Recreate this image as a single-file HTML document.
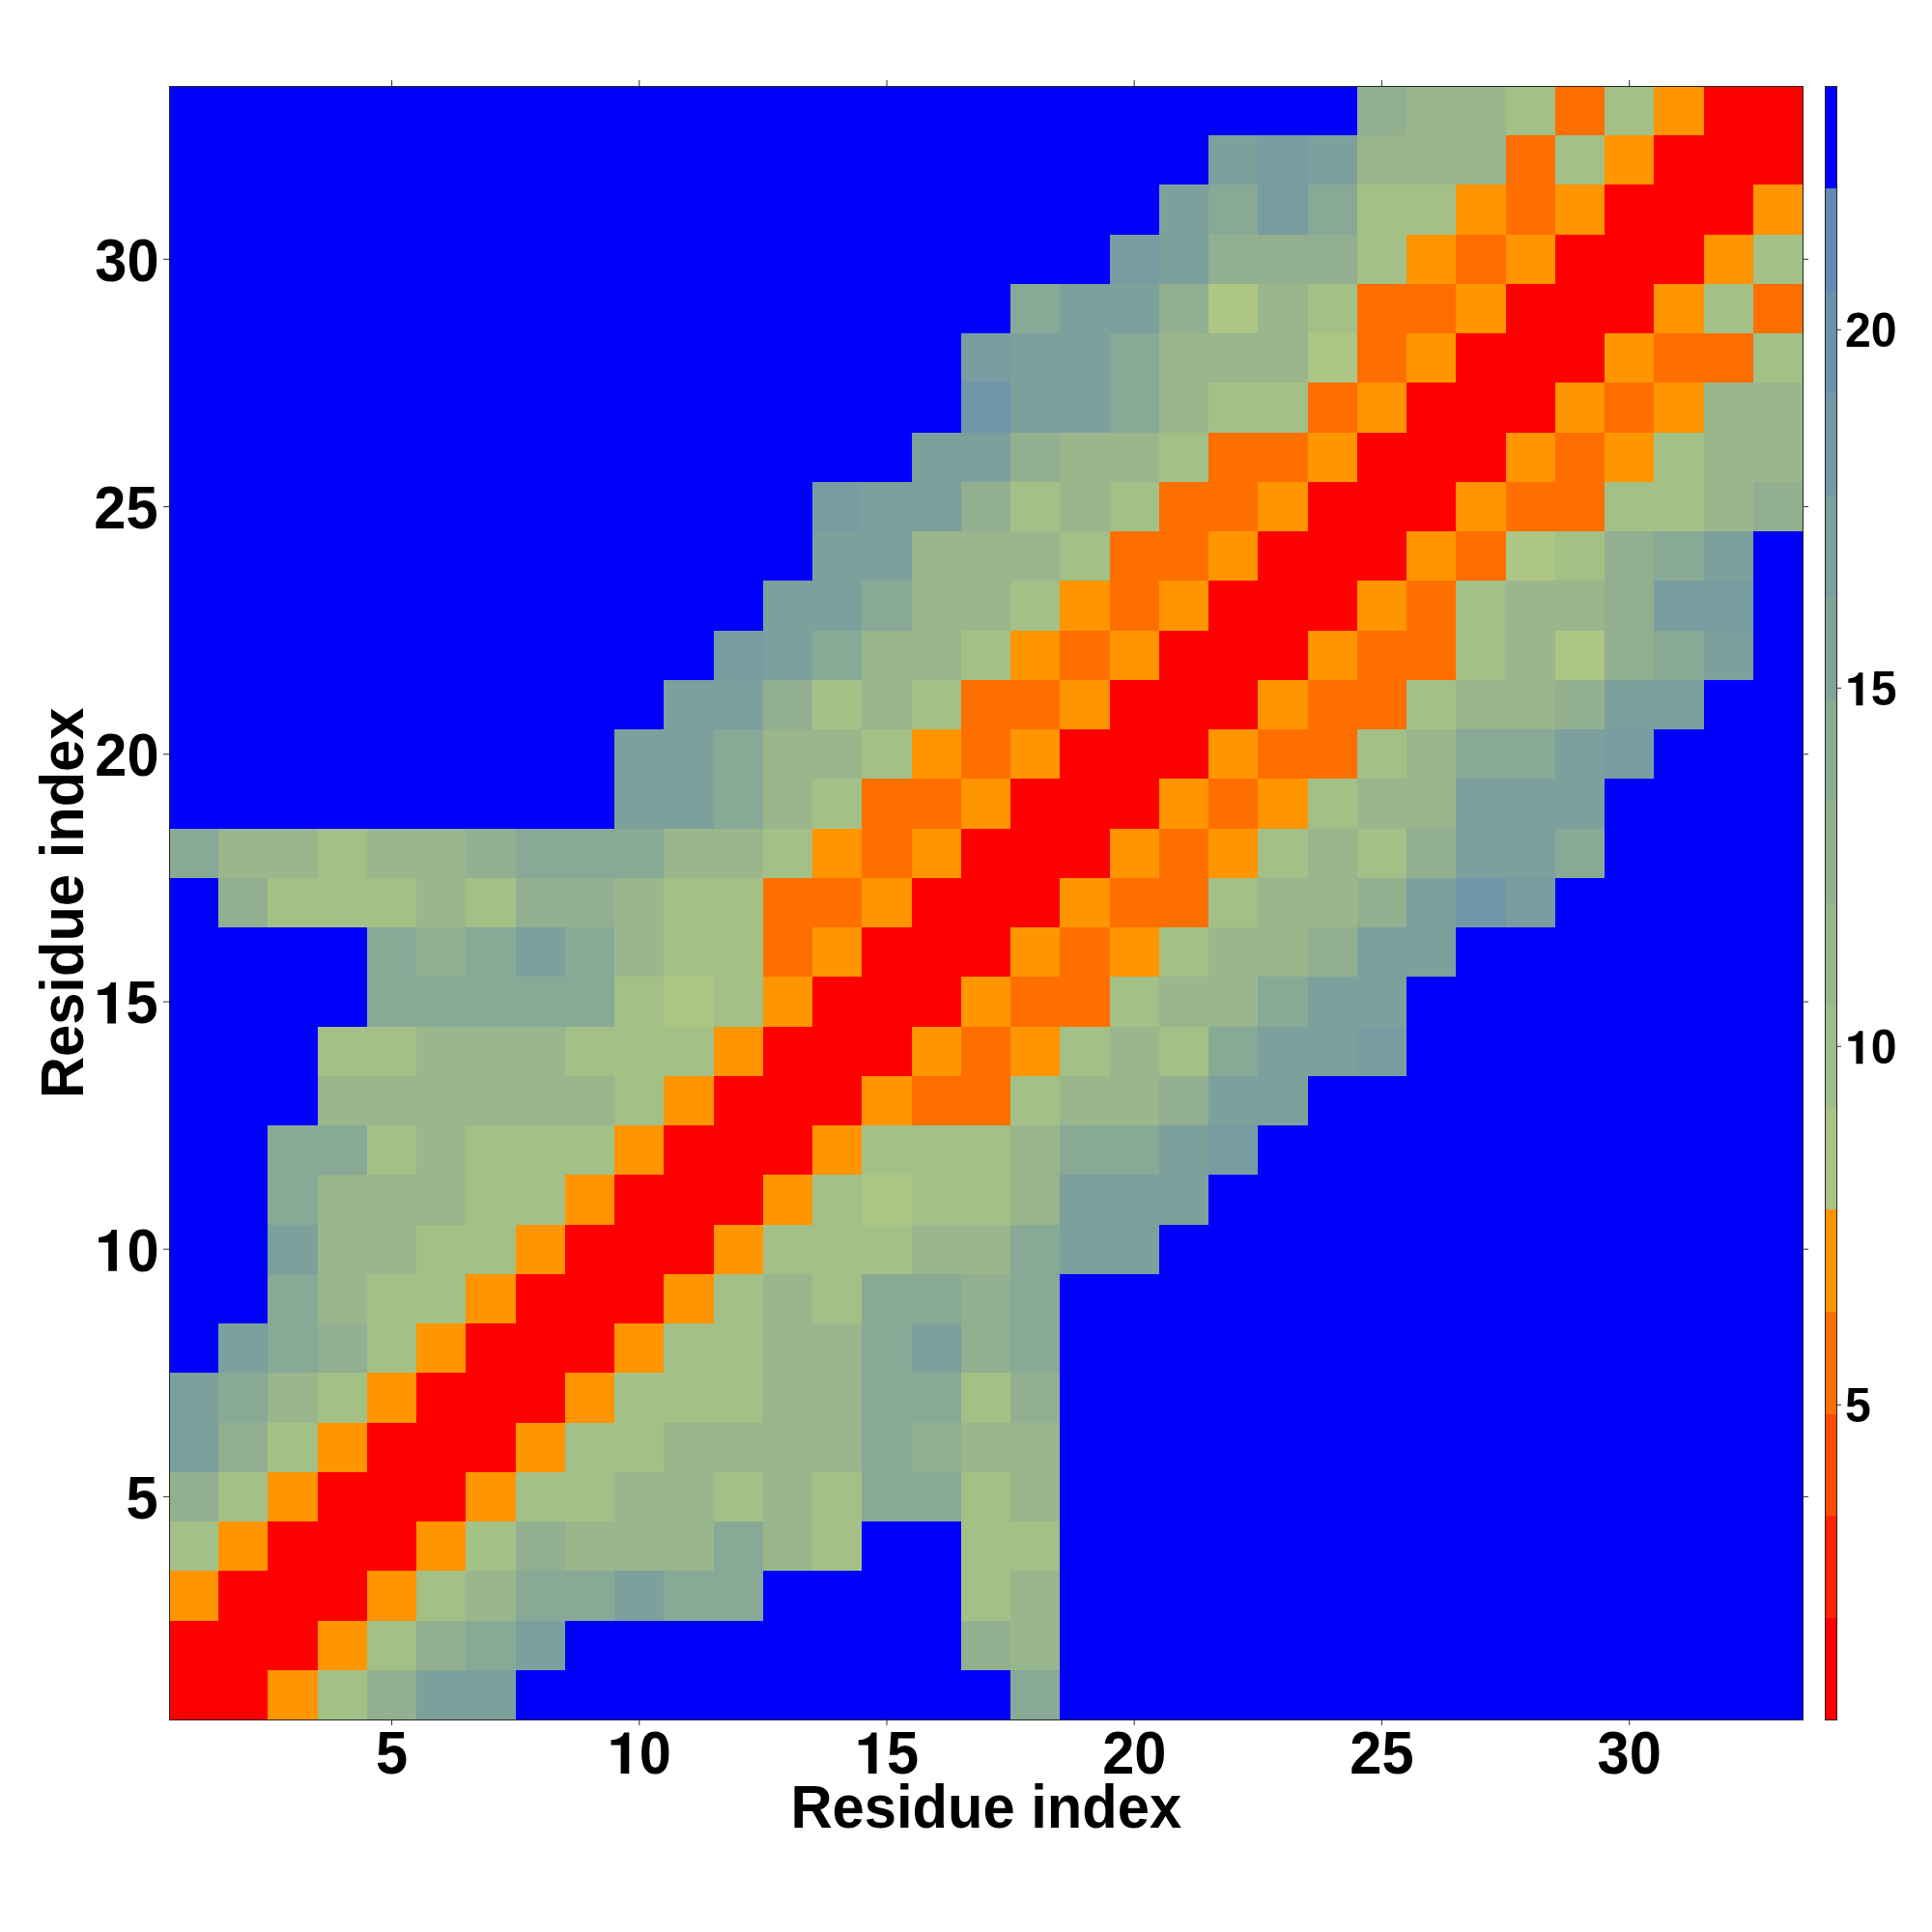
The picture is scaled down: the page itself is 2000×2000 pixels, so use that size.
<!DOCTYPE html><html><head><meta charset="utf-8"><style>html,body{margin:0;padding:0;background:#fff;width:2000px;height:2000px;overflow:hidden}svg{display:block}text{font-family:"Liberation Sans",sans-serif;font-weight:bold}</style></head><body>
<svg width="2000" height="2000" viewBox="0 0 2000 2000">
<rect x="0" y="0" width="2000" height="2000" fill="#fff"/>
<g shape-rendering="crispEdges">
<rect x="175.00" y="89.00" width="1230.42" height="51.84" fill="#0000ff"/>
<rect x="1404.82" y="89.00" width="51.84" height="51.84" fill="#92b090"/>
<rect x="1456.06" y="89.00" width="103.08" height="51.84" fill="#99b68c"/>
<rect x="1558.55" y="89.00" width="51.84" height="51.84" fill="#a3c087"/>
<rect x="1609.79" y="89.00" width="51.84" height="51.84" fill="#ff6f00"/>
<rect x="1661.03" y="89.00" width="51.84" height="51.84" fill="#a3c087"/>
<rect x="1712.27" y="89.00" width="51.84" height="51.84" fill="#ff9500"/>
<rect x="1763.52" y="89.00" width="103.08" height="51.84" fill="#ff0000"/>
<rect x="175.00" y="140.24" width="1076.69" height="51.84" fill="#0000ff"/>
<rect x="1251.09" y="140.24" width="51.84" height="51.84" fill="#7ca09c"/>
<rect x="1302.33" y="140.24" width="51.84" height="51.84" fill="#789da1"/>
<rect x="1353.58" y="140.24" width="51.84" height="51.84" fill="#7ca09c"/>
<rect x="1404.82" y="140.24" width="154.33" height="51.84" fill="#99b68c"/>
<rect x="1558.55" y="140.24" width="51.84" height="51.84" fill="#ff6f00"/>
<rect x="1609.79" y="140.24" width="51.84" height="51.84" fill="#a3c087"/>
<rect x="1661.03" y="140.24" width="51.84" height="51.84" fill="#ff9500"/>
<rect x="1712.27" y="140.24" width="154.33" height="51.84" fill="#ff0000"/>
<rect x="175.00" y="191.48" width="1025.45" height="51.84" fill="#0000ff"/>
<rect x="1199.85" y="191.48" width="51.84" height="51.84" fill="#7ca09c"/>
<rect x="1251.09" y="191.48" width="51.84" height="51.84" fill="#88a996"/>
<rect x="1302.33" y="191.48" width="51.84" height="51.84" fill="#789da1"/>
<rect x="1353.58" y="191.48" width="51.84" height="51.84" fill="#88a996"/>
<rect x="1404.82" y="191.48" width="103.08" height="51.84" fill="#a3c087"/>
<rect x="1507.30" y="191.48" width="51.84" height="51.84" fill="#ff9500"/>
<rect x="1558.55" y="191.48" width="51.84" height="51.84" fill="#ff6f00"/>
<rect x="1609.79" y="191.48" width="51.84" height="51.84" fill="#ff9500"/>
<rect x="1661.03" y="191.48" width="154.33" height="51.84" fill="#ff0000"/>
<rect x="1814.76" y="191.48" width="51.84" height="51.84" fill="#ff9500"/>
<rect x="175.00" y="242.73" width="974.21" height="51.84" fill="#0000ff"/>
<rect x="1148.61" y="242.73" width="51.84" height="51.84" fill="#789da1"/>
<rect x="1199.85" y="242.73" width="51.84" height="51.84" fill="#7ca09c"/>
<rect x="1251.09" y="242.73" width="154.33" height="51.84" fill="#92b090"/>
<rect x="1404.82" y="242.73" width="51.84" height="51.84" fill="#a3c087"/>
<rect x="1456.06" y="242.73" width="51.84" height="51.84" fill="#ff9500"/>
<rect x="1507.30" y="242.73" width="51.84" height="51.84" fill="#ff6f00"/>
<rect x="1558.55" y="242.73" width="51.84" height="51.84" fill="#ff9500"/>
<rect x="1609.79" y="242.73" width="154.33" height="51.84" fill="#ff0000"/>
<rect x="1763.52" y="242.73" width="51.84" height="51.84" fill="#ff9500"/>
<rect x="1814.76" y="242.73" width="51.84" height="51.84" fill="#a3c087"/>
<rect x="175.00" y="293.97" width="871.72" height="51.84" fill="#0000ff"/>
<rect x="1046.12" y="293.97" width="51.84" height="51.84" fill="#88a996"/>
<rect x="1097.36" y="293.97" width="103.08" height="51.84" fill="#7ca09c"/>
<rect x="1199.85" y="293.97" width="51.84" height="51.84" fill="#92b090"/>
<rect x="1251.09" y="293.97" width="51.84" height="51.84" fill="#adc683"/>
<rect x="1302.33" y="293.97" width="51.84" height="51.84" fill="#99b68c"/>
<rect x="1353.58" y="293.97" width="51.84" height="51.84" fill="#a3c087"/>
<rect x="1404.82" y="293.97" width="103.08" height="51.84" fill="#ff6f00"/>
<rect x="1507.30" y="293.97" width="51.84" height="51.84" fill="#ff9500"/>
<rect x="1558.55" y="293.97" width="154.33" height="51.84" fill="#ff0000"/>
<rect x="1712.27" y="293.97" width="51.84" height="51.84" fill="#ff9500"/>
<rect x="1763.52" y="293.97" width="51.84" height="51.84" fill="#a3c087"/>
<rect x="1814.76" y="293.97" width="51.84" height="51.84" fill="#ff6f00"/>
<rect x="175.00" y="345.21" width="820.48" height="51.84" fill="#0000ff"/>
<rect x="994.88" y="345.21" width="51.84" height="51.84" fill="#789da1"/>
<rect x="1046.12" y="345.21" width="103.08" height="51.84" fill="#7ca09c"/>
<rect x="1148.61" y="345.21" width="51.84" height="51.84" fill="#88a996"/>
<rect x="1199.85" y="345.21" width="154.33" height="51.84" fill="#99b68c"/>
<rect x="1353.58" y="345.21" width="51.84" height="51.84" fill="#adc683"/>
<rect x="1404.82" y="345.21" width="51.84" height="51.84" fill="#ff6f00"/>
<rect x="1456.06" y="345.21" width="51.84" height="51.84" fill="#ff9500"/>
<rect x="1507.30" y="345.21" width="154.33" height="51.84" fill="#ff0000"/>
<rect x="1661.03" y="345.21" width="51.84" height="51.84" fill="#ff9500"/>
<rect x="1712.27" y="345.21" width="103.08" height="51.84" fill="#ff6f00"/>
<rect x="1814.76" y="345.21" width="51.84" height="51.84" fill="#a3c087"/>
<rect x="175.00" y="396.45" width="820.48" height="51.84" fill="#0000ff"/>
<rect x="994.88" y="396.45" width="51.84" height="51.84" fill="#6f96a8"/>
<rect x="1046.12" y="396.45" width="103.08" height="51.84" fill="#7ca09c"/>
<rect x="1148.61" y="396.45" width="51.84" height="51.84" fill="#88a996"/>
<rect x="1199.85" y="396.45" width="51.84" height="51.84" fill="#99b68c"/>
<rect x="1251.09" y="396.45" width="103.08" height="51.84" fill="#a3c087"/>
<rect x="1353.58" y="396.45" width="51.84" height="51.84" fill="#ff6f00"/>
<rect x="1404.82" y="396.45" width="51.84" height="51.84" fill="#ff9500"/>
<rect x="1456.06" y="396.45" width="154.33" height="51.84" fill="#ff0000"/>
<rect x="1609.79" y="396.45" width="51.84" height="51.84" fill="#ff9500"/>
<rect x="1661.03" y="396.45" width="51.84" height="51.84" fill="#ff6f00"/>
<rect x="1712.27" y="396.45" width="51.84" height="51.84" fill="#ff9500"/>
<rect x="1763.52" y="396.45" width="103.08" height="51.84" fill="#99b68c"/>
<rect x="175.00" y="447.70" width="769.24" height="51.84" fill="#0000ff"/>
<rect x="943.64" y="447.70" width="103.08" height="51.84" fill="#7ca09c"/>
<rect x="1046.12" y="447.70" width="51.84" height="51.84" fill="#92b090"/>
<rect x="1097.36" y="447.70" width="103.08" height="51.84" fill="#99b68c"/>
<rect x="1199.85" y="447.70" width="51.84" height="51.84" fill="#a3c087"/>
<rect x="1251.09" y="447.70" width="103.08" height="51.84" fill="#ff6f00"/>
<rect x="1353.58" y="447.70" width="51.84" height="51.84" fill="#ff9500"/>
<rect x="1404.82" y="447.70" width="154.33" height="51.84" fill="#ff0000"/>
<rect x="1558.55" y="447.70" width="51.84" height="51.84" fill="#ff9500"/>
<rect x="1609.79" y="447.70" width="51.84" height="51.84" fill="#ff6f00"/>
<rect x="1661.03" y="447.70" width="51.84" height="51.84" fill="#ff9500"/>
<rect x="1712.27" y="447.70" width="51.84" height="51.84" fill="#a3c087"/>
<rect x="1763.52" y="447.70" width="103.08" height="51.84" fill="#99b68c"/>
<rect x="175.00" y="498.94" width="666.75" height="51.84" fill="#0000ff"/>
<rect x="841.15" y="498.94" width="51.84" height="51.84" fill="#789da1"/>
<rect x="892.39" y="498.94" width="103.08" height="51.84" fill="#7ca09c"/>
<rect x="994.88" y="498.94" width="51.84" height="51.84" fill="#92b090"/>
<rect x="1046.12" y="498.94" width="51.84" height="51.84" fill="#a3c087"/>
<rect x="1097.36" y="498.94" width="51.84" height="51.84" fill="#99b68c"/>
<rect x="1148.61" y="498.94" width="51.84" height="51.84" fill="#a3c087"/>
<rect x="1199.85" y="498.94" width="103.08" height="51.84" fill="#ff6f00"/>
<rect x="1302.33" y="498.94" width="51.84" height="51.84" fill="#ff9500"/>
<rect x="1353.58" y="498.94" width="154.33" height="51.84" fill="#ff0000"/>
<rect x="1507.30" y="498.94" width="51.84" height="51.84" fill="#ff9500"/>
<rect x="1558.55" y="498.94" width="103.08" height="51.84" fill="#ff6f00"/>
<rect x="1661.03" y="498.94" width="103.08" height="51.84" fill="#a3c087"/>
<rect x="1763.52" y="498.94" width="51.84" height="51.84" fill="#99b68c"/>
<rect x="1814.76" y="498.94" width="51.84" height="51.84" fill="#92b090"/>
<rect x="175.00" y="550.18" width="666.75" height="51.84" fill="#0000ff"/>
<rect x="841.15" y="550.18" width="103.08" height="51.84" fill="#7ca09c"/>
<rect x="943.64" y="550.18" width="154.33" height="51.84" fill="#99b68c"/>
<rect x="1097.36" y="550.18" width="51.84" height="51.84" fill="#a3c087"/>
<rect x="1148.61" y="550.18" width="103.08" height="51.84" fill="#ff6f00"/>
<rect x="1251.09" y="550.18" width="51.84" height="51.84" fill="#ff9500"/>
<rect x="1302.33" y="550.18" width="154.33" height="51.84" fill="#ff0000"/>
<rect x="1456.06" y="550.18" width="51.84" height="51.84" fill="#ff9500"/>
<rect x="1507.30" y="550.18" width="51.84" height="51.84" fill="#ff6f00"/>
<rect x="1558.55" y="550.18" width="51.84" height="51.84" fill="#adc683"/>
<rect x="1609.79" y="550.18" width="51.84" height="51.84" fill="#a3c087"/>
<rect x="1661.03" y="550.18" width="51.84" height="51.84" fill="#92b090"/>
<rect x="1712.27" y="550.18" width="51.84" height="51.84" fill="#88a996"/>
<rect x="1763.52" y="550.18" width="51.84" height="51.84" fill="#7ca09c"/>
<rect x="1814.76" y="550.18" width="51.84" height="51.84" fill="#0000ff"/>
<rect x="175.00" y="601.42" width="615.51" height="51.84" fill="#0000ff"/>
<rect x="789.91" y="601.42" width="103.08" height="51.84" fill="#7ca09c"/>
<rect x="892.39" y="601.42" width="51.84" height="51.84" fill="#88a996"/>
<rect x="943.64" y="601.42" width="103.08" height="51.84" fill="#99b68c"/>
<rect x="1046.12" y="601.42" width="51.84" height="51.84" fill="#a3c087"/>
<rect x="1097.36" y="601.42" width="51.84" height="51.84" fill="#ff9500"/>
<rect x="1148.61" y="601.42" width="51.84" height="51.84" fill="#ff6f00"/>
<rect x="1199.85" y="601.42" width="51.84" height="51.84" fill="#ff9500"/>
<rect x="1251.09" y="601.42" width="154.33" height="51.84" fill="#ff0000"/>
<rect x="1404.82" y="601.42" width="51.84" height="51.84" fill="#ff9500"/>
<rect x="1456.06" y="601.42" width="51.84" height="51.84" fill="#ff6f00"/>
<rect x="1507.30" y="601.42" width="51.84" height="51.84" fill="#a3c087"/>
<rect x="1558.55" y="601.42" width="103.08" height="51.84" fill="#99b68c"/>
<rect x="1661.03" y="601.42" width="51.84" height="51.84" fill="#92b090"/>
<rect x="1712.27" y="601.42" width="103.08" height="51.84" fill="#789da1"/>
<rect x="1814.76" y="601.42" width="51.84" height="51.84" fill="#0000ff"/>
<rect x="175.00" y="652.67" width="564.27" height="51.84" fill="#0000ff"/>
<rect x="738.67" y="652.67" width="51.84" height="51.84" fill="#789da1"/>
<rect x="789.91" y="652.67" width="51.84" height="51.84" fill="#7ca09c"/>
<rect x="841.15" y="652.67" width="51.84" height="51.84" fill="#88a996"/>
<rect x="892.39" y="652.67" width="103.08" height="51.84" fill="#99b68c"/>
<rect x="994.88" y="652.67" width="51.84" height="51.84" fill="#a3c087"/>
<rect x="1046.12" y="652.67" width="51.84" height="51.84" fill="#ff9500"/>
<rect x="1097.36" y="652.67" width="51.84" height="51.84" fill="#ff6f00"/>
<rect x="1148.61" y="652.67" width="51.84" height="51.84" fill="#ff9500"/>
<rect x="1199.85" y="652.67" width="154.33" height="51.84" fill="#ff0000"/>
<rect x="1353.58" y="652.67" width="51.84" height="51.84" fill="#ff9500"/>
<rect x="1404.82" y="652.67" width="103.08" height="51.84" fill="#ff6f00"/>
<rect x="1507.30" y="652.67" width="51.84" height="51.84" fill="#a3c087"/>
<rect x="1558.55" y="652.67" width="51.84" height="51.84" fill="#99b68c"/>
<rect x="1609.79" y="652.67" width="51.84" height="51.84" fill="#adc683"/>
<rect x="1661.03" y="652.67" width="51.84" height="51.84" fill="#92b090"/>
<rect x="1712.27" y="652.67" width="51.84" height="51.84" fill="#88a996"/>
<rect x="1763.52" y="652.67" width="51.84" height="51.84" fill="#7ca09c"/>
<rect x="1814.76" y="652.67" width="51.84" height="51.84" fill="#0000ff"/>
<rect x="175.00" y="703.91" width="513.02" height="51.84" fill="#0000ff"/>
<rect x="687.42" y="703.91" width="103.08" height="51.84" fill="#7ca09c"/>
<rect x="789.91" y="703.91" width="51.84" height="51.84" fill="#92b090"/>
<rect x="841.15" y="703.91" width="51.84" height="51.84" fill="#a3c087"/>
<rect x="892.39" y="703.91" width="51.84" height="51.84" fill="#99b68c"/>
<rect x="943.64" y="703.91" width="51.84" height="51.84" fill="#a3c087"/>
<rect x="994.88" y="703.91" width="103.08" height="51.84" fill="#ff6f00"/>
<rect x="1097.36" y="703.91" width="51.84" height="51.84" fill="#ff9500"/>
<rect x="1148.61" y="703.91" width="154.33" height="51.84" fill="#ff0000"/>
<rect x="1302.33" y="703.91" width="51.84" height="51.84" fill="#ff9500"/>
<rect x="1353.58" y="703.91" width="103.08" height="51.84" fill="#ff6f00"/>
<rect x="1456.06" y="703.91" width="51.84" height="51.84" fill="#a3c087"/>
<rect x="1507.30" y="703.91" width="103.08" height="51.84" fill="#99b68c"/>
<rect x="1609.79" y="703.91" width="51.84" height="51.84" fill="#92b090"/>
<rect x="1661.03" y="703.91" width="103.08" height="51.84" fill="#7ca09c"/>
<rect x="1763.52" y="703.91" width="103.08" height="51.84" fill="#0000ff"/>
<rect x="175.00" y="755.15" width="461.78" height="51.84" fill="#0000ff"/>
<rect x="636.18" y="755.15" width="103.08" height="51.84" fill="#7ca09c"/>
<rect x="738.67" y="755.15" width="51.84" height="51.84" fill="#88a996"/>
<rect x="789.91" y="755.15" width="103.08" height="51.84" fill="#99b68c"/>
<rect x="892.39" y="755.15" width="51.84" height="51.84" fill="#a3c087"/>
<rect x="943.64" y="755.15" width="51.84" height="51.84" fill="#ff9500"/>
<rect x="994.88" y="755.15" width="51.84" height="51.84" fill="#ff6f00"/>
<rect x="1046.12" y="755.15" width="51.84" height="51.84" fill="#ff9500"/>
<rect x="1097.36" y="755.15" width="154.33" height="51.84" fill="#ff0000"/>
<rect x="1251.09" y="755.15" width="51.84" height="51.84" fill="#ff9500"/>
<rect x="1302.33" y="755.15" width="103.08" height="51.84" fill="#ff6f00"/>
<rect x="1404.82" y="755.15" width="51.84" height="51.84" fill="#a3c087"/>
<rect x="1456.06" y="755.15" width="51.84" height="51.84" fill="#99b68c"/>
<rect x="1507.30" y="755.15" width="103.08" height="51.84" fill="#88a996"/>
<rect x="1609.79" y="755.15" width="51.84" height="51.84" fill="#7ca09c"/>
<rect x="1661.03" y="755.15" width="51.84" height="51.84" fill="#789da1"/>
<rect x="1712.27" y="755.15" width="154.33" height="51.84" fill="#0000ff"/>
<rect x="175.00" y="806.39" width="461.78" height="51.84" fill="#0000ff"/>
<rect x="636.18" y="806.39" width="103.08" height="51.84" fill="#7ca09c"/>
<rect x="738.67" y="806.39" width="51.84" height="51.84" fill="#88a996"/>
<rect x="789.91" y="806.39" width="51.84" height="51.84" fill="#99b68c"/>
<rect x="841.15" y="806.39" width="51.84" height="51.84" fill="#a3c087"/>
<rect x="892.39" y="806.39" width="103.08" height="51.84" fill="#ff6f00"/>
<rect x="994.88" y="806.39" width="51.84" height="51.84" fill="#ff9500"/>
<rect x="1046.12" y="806.39" width="154.33" height="51.84" fill="#ff0000"/>
<rect x="1199.85" y="806.39" width="51.84" height="51.84" fill="#ff9500"/>
<rect x="1251.09" y="806.39" width="51.84" height="51.84" fill="#ff6f00"/>
<rect x="1302.33" y="806.39" width="51.84" height="51.84" fill="#ff9500"/>
<rect x="1353.58" y="806.39" width="51.84" height="51.84" fill="#a3c087"/>
<rect x="1404.82" y="806.39" width="103.08" height="51.84" fill="#99b68c"/>
<rect x="1507.30" y="806.39" width="154.33" height="51.84" fill="#7ca09c"/>
<rect x="1661.03" y="806.39" width="205.57" height="51.84" fill="#0000ff"/>
<rect x="175.00" y="857.64" width="51.84" height="51.84" fill="#88a996"/>
<rect x="226.24" y="857.64" width="103.08" height="51.84" fill="#99b68c"/>
<rect x="328.73" y="857.64" width="51.84" height="51.84" fill="#a3c087"/>
<rect x="379.97" y="857.64" width="103.08" height="51.84" fill="#99b68c"/>
<rect x="482.45" y="857.64" width="51.84" height="51.84" fill="#92b090"/>
<rect x="533.70" y="857.64" width="154.33" height="51.84" fill="#88a996"/>
<rect x="687.42" y="857.64" width="103.08" height="51.84" fill="#99b68c"/>
<rect x="789.91" y="857.64" width="51.84" height="51.84" fill="#a3c087"/>
<rect x="841.15" y="857.64" width="51.84" height="51.84" fill="#ff9500"/>
<rect x="892.39" y="857.64" width="51.84" height="51.84" fill="#ff6f00"/>
<rect x="943.64" y="857.64" width="51.84" height="51.84" fill="#ff9500"/>
<rect x="994.88" y="857.64" width="154.33" height="51.84" fill="#ff0000"/>
<rect x="1148.61" y="857.64" width="51.84" height="51.84" fill="#ff9500"/>
<rect x="1199.85" y="857.64" width="51.84" height="51.84" fill="#ff6f00"/>
<rect x="1251.09" y="857.64" width="51.84" height="51.84" fill="#ff9500"/>
<rect x="1302.33" y="857.64" width="51.84" height="51.84" fill="#a3c087"/>
<rect x="1353.58" y="857.64" width="51.84" height="51.84" fill="#99b68c"/>
<rect x="1404.82" y="857.64" width="51.84" height="51.84" fill="#a3c087"/>
<rect x="1456.06" y="857.64" width="51.84" height="51.84" fill="#92b090"/>
<rect x="1507.30" y="857.64" width="103.08" height="51.84" fill="#7ca09c"/>
<rect x="1609.79" y="857.64" width="51.84" height="51.84" fill="#88a996"/>
<rect x="1661.03" y="857.64" width="205.57" height="51.84" fill="#0000ff"/>
<rect x="175.00" y="908.88" width="51.84" height="51.84" fill="#0000ff"/>
<rect x="226.24" y="908.88" width="51.84" height="51.84" fill="#92b090"/>
<rect x="277.48" y="908.88" width="154.33" height="51.84" fill="#a3c087"/>
<rect x="431.21" y="908.88" width="51.84" height="51.84" fill="#99b68c"/>
<rect x="482.45" y="908.88" width="51.84" height="51.84" fill="#a3c087"/>
<rect x="533.70" y="908.88" width="103.08" height="51.84" fill="#92b090"/>
<rect x="636.18" y="908.88" width="51.84" height="51.84" fill="#99b68c"/>
<rect x="687.42" y="908.88" width="103.08" height="51.84" fill="#a3c087"/>
<rect x="789.91" y="908.88" width="103.08" height="51.84" fill="#ff6f00"/>
<rect x="892.39" y="908.88" width="51.84" height="51.84" fill="#ff9500"/>
<rect x="943.64" y="908.88" width="154.33" height="51.84" fill="#ff0000"/>
<rect x="1097.36" y="908.88" width="51.84" height="51.84" fill="#ff9500"/>
<rect x="1148.61" y="908.88" width="103.08" height="51.84" fill="#ff6f00"/>
<rect x="1251.09" y="908.88" width="51.84" height="51.84" fill="#a3c087"/>
<rect x="1302.33" y="908.88" width="103.08" height="51.84" fill="#99b68c"/>
<rect x="1404.82" y="908.88" width="51.84" height="51.84" fill="#92b090"/>
<rect x="1456.06" y="908.88" width="51.84" height="51.84" fill="#7ca09c"/>
<rect x="1507.30" y="908.88" width="51.84" height="51.84" fill="#6f96a8"/>
<rect x="1558.55" y="908.88" width="51.84" height="51.84" fill="#789da1"/>
<rect x="1609.79" y="908.88" width="256.81" height="51.84" fill="#0000ff"/>
<rect x="175.00" y="960.12" width="205.57" height="51.84" fill="#0000ff"/>
<rect x="379.97" y="960.12" width="51.84" height="51.84" fill="#88a996"/>
<rect x="431.21" y="960.12" width="51.84" height="51.84" fill="#92b090"/>
<rect x="482.45" y="960.12" width="51.84" height="51.84" fill="#88a996"/>
<rect x="533.70" y="960.12" width="51.84" height="51.84" fill="#7ca09c"/>
<rect x="584.94" y="960.12" width="51.84" height="51.84" fill="#88a996"/>
<rect x="636.18" y="960.12" width="51.84" height="51.84" fill="#99b68c"/>
<rect x="687.42" y="960.12" width="103.08" height="51.84" fill="#a3c087"/>
<rect x="789.91" y="960.12" width="51.84" height="51.84" fill="#ff6f00"/>
<rect x="841.15" y="960.12" width="51.84" height="51.84" fill="#ff9500"/>
<rect x="892.39" y="960.12" width="154.33" height="51.84" fill="#ff0000"/>
<rect x="1046.12" y="960.12" width="51.84" height="51.84" fill="#ff9500"/>
<rect x="1097.36" y="960.12" width="51.84" height="51.84" fill="#ff6f00"/>
<rect x="1148.61" y="960.12" width="51.84" height="51.84" fill="#ff9500"/>
<rect x="1199.85" y="960.12" width="51.84" height="51.84" fill="#a3c087"/>
<rect x="1251.09" y="960.12" width="103.08" height="51.84" fill="#99b68c"/>
<rect x="1353.58" y="960.12" width="51.84" height="51.84" fill="#92b090"/>
<rect x="1404.82" y="960.12" width="103.08" height="51.84" fill="#7ca09c"/>
<rect x="1507.30" y="960.12" width="359.30" height="51.84" fill="#0000ff"/>
<rect x="175.00" y="1011.36" width="205.57" height="51.84" fill="#0000ff"/>
<rect x="379.97" y="1011.36" width="256.81" height="51.84" fill="#88a996"/>
<rect x="636.18" y="1011.36" width="51.84" height="51.84" fill="#a3c087"/>
<rect x="687.42" y="1011.36" width="51.84" height="51.84" fill="#adc683"/>
<rect x="738.67" y="1011.36" width="51.84" height="51.84" fill="#a3c087"/>
<rect x="789.91" y="1011.36" width="51.84" height="51.84" fill="#ff9500"/>
<rect x="841.15" y="1011.36" width="154.33" height="51.84" fill="#ff0000"/>
<rect x="994.88" y="1011.36" width="51.84" height="51.84" fill="#ff9500"/>
<rect x="1046.12" y="1011.36" width="103.08" height="51.84" fill="#ff6f00"/>
<rect x="1148.61" y="1011.36" width="51.84" height="51.84" fill="#a3c087"/>
<rect x="1199.85" y="1011.36" width="103.08" height="51.84" fill="#99b68c"/>
<rect x="1302.33" y="1011.36" width="51.84" height="51.84" fill="#88a996"/>
<rect x="1353.58" y="1011.36" width="103.08" height="51.84" fill="#7ca09c"/>
<rect x="1456.06" y="1011.36" width="410.54" height="51.84" fill="#0000ff"/>
<rect x="175.00" y="1062.61" width="154.33" height="51.84" fill="#0000ff"/>
<rect x="328.73" y="1062.61" width="103.08" height="51.84" fill="#a3c087"/>
<rect x="431.21" y="1062.61" width="154.33" height="51.84" fill="#99b68c"/>
<rect x="584.94" y="1062.61" width="154.33" height="51.84" fill="#a3c087"/>
<rect x="738.67" y="1062.61" width="51.84" height="51.84" fill="#ff9500"/>
<rect x="789.91" y="1062.61" width="154.33" height="51.84" fill="#ff0000"/>
<rect x="943.64" y="1062.61" width="51.84" height="51.84" fill="#ff9500"/>
<rect x="994.88" y="1062.61" width="51.84" height="51.84" fill="#ff6f00"/>
<rect x="1046.12" y="1062.61" width="51.84" height="51.84" fill="#ff9500"/>
<rect x="1097.36" y="1062.61" width="51.84" height="51.84" fill="#a3c087"/>
<rect x="1148.61" y="1062.61" width="51.84" height="51.84" fill="#99b68c"/>
<rect x="1199.85" y="1062.61" width="51.84" height="51.84" fill="#a3c087"/>
<rect x="1251.09" y="1062.61" width="51.84" height="51.84" fill="#88a996"/>
<rect x="1302.33" y="1062.61" width="103.08" height="51.84" fill="#7ca09c"/>
<rect x="1404.82" y="1062.61" width="51.84" height="51.84" fill="#789da1"/>
<rect x="1456.06" y="1062.61" width="410.54" height="51.84" fill="#0000ff"/>
<rect x="175.00" y="1113.85" width="154.33" height="51.84" fill="#0000ff"/>
<rect x="328.73" y="1113.85" width="308.05" height="51.84" fill="#99b68c"/>
<rect x="636.18" y="1113.85" width="51.84" height="51.84" fill="#a3c087"/>
<rect x="687.42" y="1113.85" width="51.84" height="51.84" fill="#ff9500"/>
<rect x="738.67" y="1113.85" width="154.33" height="51.84" fill="#ff0000"/>
<rect x="892.39" y="1113.85" width="51.84" height="51.84" fill="#ff9500"/>
<rect x="943.64" y="1113.85" width="103.08" height="51.84" fill="#ff6f00"/>
<rect x="1046.12" y="1113.85" width="51.84" height="51.84" fill="#a3c087"/>
<rect x="1097.36" y="1113.85" width="103.08" height="51.84" fill="#99b68c"/>
<rect x="1199.85" y="1113.85" width="51.84" height="51.84" fill="#92b090"/>
<rect x="1251.09" y="1113.85" width="103.08" height="51.84" fill="#7ca09c"/>
<rect x="1353.58" y="1113.85" width="513.02" height="51.84" fill="#0000ff"/>
<rect x="175.00" y="1165.09" width="103.08" height="51.84" fill="#0000ff"/>
<rect x="277.48" y="1165.09" width="103.08" height="51.84" fill="#88a996"/>
<rect x="379.97" y="1165.09" width="51.84" height="51.84" fill="#a3c087"/>
<rect x="431.21" y="1165.09" width="51.84" height="51.84" fill="#99b68c"/>
<rect x="482.45" y="1165.09" width="154.33" height="51.84" fill="#a3c087"/>
<rect x="636.18" y="1165.09" width="51.84" height="51.84" fill="#ff9500"/>
<rect x="687.42" y="1165.09" width="154.33" height="51.84" fill="#ff0000"/>
<rect x="841.15" y="1165.09" width="51.84" height="51.84" fill="#ff9500"/>
<rect x="892.39" y="1165.09" width="154.33" height="51.84" fill="#a3c087"/>
<rect x="1046.12" y="1165.09" width="51.84" height="51.84" fill="#99b68c"/>
<rect x="1097.36" y="1165.09" width="103.08" height="51.84" fill="#88a996"/>
<rect x="1199.85" y="1165.09" width="51.84" height="51.84" fill="#7ca09c"/>
<rect x="1251.09" y="1165.09" width="51.84" height="51.84" fill="#789da1"/>
<rect x="1302.33" y="1165.09" width="564.27" height="51.84" fill="#0000ff"/>
<rect x="175.00" y="1216.33" width="103.08" height="51.84" fill="#0000ff"/>
<rect x="277.48" y="1216.33" width="51.84" height="51.84" fill="#88a996"/>
<rect x="328.73" y="1216.33" width="154.33" height="51.84" fill="#99b68c"/>
<rect x="482.45" y="1216.33" width="103.08" height="51.84" fill="#a3c087"/>
<rect x="584.94" y="1216.33" width="51.84" height="51.84" fill="#ff9500"/>
<rect x="636.18" y="1216.33" width="154.33" height="51.84" fill="#ff0000"/>
<rect x="789.91" y="1216.33" width="51.84" height="51.84" fill="#ff9500"/>
<rect x="841.15" y="1216.33" width="51.84" height="51.84" fill="#a3c087"/>
<rect x="892.39" y="1216.33" width="51.84" height="51.84" fill="#adc683"/>
<rect x="943.64" y="1216.33" width="103.08" height="51.84" fill="#a3c087"/>
<rect x="1046.12" y="1216.33" width="51.84" height="51.84" fill="#99b68c"/>
<rect x="1097.36" y="1216.33" width="154.33" height="51.84" fill="#7ca09c"/>
<rect x="1251.09" y="1216.33" width="615.51" height="51.84" fill="#0000ff"/>
<rect x="175.00" y="1267.58" width="103.08" height="51.84" fill="#0000ff"/>
<rect x="277.48" y="1267.58" width="51.84" height="51.84" fill="#7ca09c"/>
<rect x="328.73" y="1267.58" width="103.08" height="51.84" fill="#99b68c"/>
<rect x="431.21" y="1267.58" width="103.08" height="51.84" fill="#a3c087"/>
<rect x="533.70" y="1267.58" width="51.84" height="51.84" fill="#ff9500"/>
<rect x="584.94" y="1267.58" width="154.33" height="51.84" fill="#ff0000"/>
<rect x="738.67" y="1267.58" width="51.84" height="51.84" fill="#ff9500"/>
<rect x="789.91" y="1267.58" width="154.33" height="51.84" fill="#a3c087"/>
<rect x="943.64" y="1267.58" width="103.08" height="51.84" fill="#99b68c"/>
<rect x="1046.12" y="1267.58" width="51.84" height="51.84" fill="#88a996"/>
<rect x="1097.36" y="1267.58" width="103.08" height="51.84" fill="#7ca09c"/>
<rect x="1199.85" y="1267.58" width="666.75" height="51.84" fill="#0000ff"/>
<rect x="175.00" y="1318.82" width="103.08" height="51.84" fill="#0000ff"/>
<rect x="277.48" y="1318.82" width="51.84" height="51.84" fill="#88a996"/>
<rect x="328.73" y="1318.82" width="51.84" height="51.84" fill="#99b68c"/>
<rect x="379.97" y="1318.82" width="103.08" height="51.84" fill="#a3c087"/>
<rect x="482.45" y="1318.82" width="51.84" height="51.84" fill="#ff9500"/>
<rect x="533.70" y="1318.82" width="154.33" height="51.84" fill="#ff0000"/>
<rect x="687.42" y="1318.82" width="51.84" height="51.84" fill="#ff9500"/>
<rect x="738.67" y="1318.82" width="51.84" height="51.84" fill="#a3c087"/>
<rect x="789.91" y="1318.82" width="51.84" height="51.84" fill="#99b68c"/>
<rect x="841.15" y="1318.82" width="51.84" height="51.84" fill="#a3c087"/>
<rect x="892.39" y="1318.82" width="103.08" height="51.84" fill="#88a996"/>
<rect x="994.88" y="1318.82" width="51.84" height="51.84" fill="#92b090"/>
<rect x="1046.12" y="1318.82" width="51.84" height="51.84" fill="#88a996"/>
<rect x="1097.36" y="1318.82" width="769.24" height="51.84" fill="#0000ff"/>
<rect x="175.00" y="1370.06" width="51.84" height="51.84" fill="#0000ff"/>
<rect x="226.24" y="1370.06" width="51.84" height="51.84" fill="#7ca09c"/>
<rect x="277.48" y="1370.06" width="51.84" height="51.84" fill="#88a996"/>
<rect x="328.73" y="1370.06" width="51.84" height="51.84" fill="#92b090"/>
<rect x="379.97" y="1370.06" width="51.84" height="51.84" fill="#a3c087"/>
<rect x="431.21" y="1370.06" width="51.84" height="51.84" fill="#ff9500"/>
<rect x="482.45" y="1370.06" width="154.33" height="51.84" fill="#ff0000"/>
<rect x="636.18" y="1370.06" width="51.84" height="51.84" fill="#ff9500"/>
<rect x="687.42" y="1370.06" width="103.08" height="51.84" fill="#a3c087"/>
<rect x="789.91" y="1370.06" width="103.08" height="51.84" fill="#99b68c"/>
<rect x="892.39" y="1370.06" width="51.84" height="51.84" fill="#88a996"/>
<rect x="943.64" y="1370.06" width="51.84" height="51.84" fill="#7ca09c"/>
<rect x="994.88" y="1370.06" width="51.84" height="51.84" fill="#92b090"/>
<rect x="1046.12" y="1370.06" width="51.84" height="51.84" fill="#88a996"/>
<rect x="1097.36" y="1370.06" width="769.24" height="51.84" fill="#0000ff"/>
<rect x="175.00" y="1421.30" width="51.84" height="51.84" fill="#7ca09c"/>
<rect x="226.24" y="1421.30" width="51.84" height="51.84" fill="#88a996"/>
<rect x="277.48" y="1421.30" width="51.84" height="51.84" fill="#99b68c"/>
<rect x="328.73" y="1421.30" width="51.84" height="51.84" fill="#a3c087"/>
<rect x="379.97" y="1421.30" width="51.84" height="51.84" fill="#ff9500"/>
<rect x="431.21" y="1421.30" width="154.33" height="51.84" fill="#ff0000"/>
<rect x="584.94" y="1421.30" width="51.84" height="51.84" fill="#ff9500"/>
<rect x="636.18" y="1421.30" width="154.33" height="51.84" fill="#a3c087"/>
<rect x="789.91" y="1421.30" width="103.08" height="51.84" fill="#99b68c"/>
<rect x="892.39" y="1421.30" width="103.08" height="51.84" fill="#88a996"/>
<rect x="994.88" y="1421.30" width="51.84" height="51.84" fill="#a3c087"/>
<rect x="1046.12" y="1421.30" width="51.84" height="51.84" fill="#92b090"/>
<rect x="1097.36" y="1421.30" width="769.24" height="51.84" fill="#0000ff"/>
<rect x="175.00" y="1472.55" width="51.84" height="51.84" fill="#7ca09c"/>
<rect x="226.24" y="1472.55" width="51.84" height="51.84" fill="#92b090"/>
<rect x="277.48" y="1472.55" width="51.84" height="51.84" fill="#a3c087"/>
<rect x="328.73" y="1472.55" width="51.84" height="51.84" fill="#ff9500"/>
<rect x="379.97" y="1472.55" width="154.33" height="51.84" fill="#ff0000"/>
<rect x="533.70" y="1472.55" width="51.84" height="51.84" fill="#ff9500"/>
<rect x="584.94" y="1472.55" width="103.08" height="51.84" fill="#a3c087"/>
<rect x="687.42" y="1472.55" width="205.57" height="51.84" fill="#99b68c"/>
<rect x="892.39" y="1472.55" width="51.84" height="51.84" fill="#88a996"/>
<rect x="943.64" y="1472.55" width="51.84" height="51.84" fill="#92b090"/>
<rect x="994.88" y="1472.55" width="103.08" height="51.84" fill="#99b68c"/>
<rect x="1097.36" y="1472.55" width="769.24" height="51.84" fill="#0000ff"/>
<rect x="175.00" y="1523.79" width="51.84" height="51.84" fill="#92b090"/>
<rect x="226.24" y="1523.79" width="51.84" height="51.84" fill="#a3c087"/>
<rect x="277.48" y="1523.79" width="51.84" height="51.84" fill="#ff9500"/>
<rect x="328.73" y="1523.79" width="154.33" height="51.84" fill="#ff0000"/>
<rect x="482.45" y="1523.79" width="51.84" height="51.84" fill="#ff9500"/>
<rect x="533.70" y="1523.79" width="103.08" height="51.84" fill="#a3c087"/>
<rect x="636.18" y="1523.79" width="103.08" height="51.84" fill="#99b68c"/>
<rect x="738.67" y="1523.79" width="51.84" height="51.84" fill="#a3c087"/>
<rect x="789.91" y="1523.79" width="51.84" height="51.84" fill="#99b68c"/>
<rect x="841.15" y="1523.79" width="51.84" height="51.84" fill="#a3c087"/>
<rect x="892.39" y="1523.79" width="103.08" height="51.84" fill="#88a996"/>
<rect x="994.88" y="1523.79" width="51.84" height="51.84" fill="#a3c087"/>
<rect x="1046.12" y="1523.79" width="51.84" height="51.84" fill="#99b68c"/>
<rect x="1097.36" y="1523.79" width="769.24" height="51.84" fill="#0000ff"/>
<rect x="175.00" y="1575.03" width="51.84" height="51.84" fill="#a3c087"/>
<rect x="226.24" y="1575.03" width="51.84" height="51.84" fill="#ff9500"/>
<rect x="277.48" y="1575.03" width="154.33" height="51.84" fill="#ff0000"/>
<rect x="431.21" y="1575.03" width="51.84" height="51.84" fill="#ff9500"/>
<rect x="482.45" y="1575.03" width="51.84" height="51.84" fill="#a3c087"/>
<rect x="533.70" y="1575.03" width="51.84" height="51.84" fill="#92b090"/>
<rect x="584.94" y="1575.03" width="154.33" height="51.84" fill="#99b68c"/>
<rect x="738.67" y="1575.03" width="51.84" height="51.84" fill="#88a996"/>
<rect x="789.91" y="1575.03" width="51.84" height="51.84" fill="#99b68c"/>
<rect x="841.15" y="1575.03" width="51.84" height="51.84" fill="#a3c087"/>
<rect x="892.39" y="1575.03" width="103.08" height="51.84" fill="#0000ff"/>
<rect x="994.88" y="1575.03" width="103.08" height="51.84" fill="#a3c087"/>
<rect x="1097.36" y="1575.03" width="769.24" height="51.84" fill="#0000ff"/>
<rect x="175.00" y="1626.27" width="51.84" height="51.84" fill="#ff9500"/>
<rect x="226.24" y="1626.27" width="154.33" height="51.84" fill="#ff0000"/>
<rect x="379.97" y="1626.27" width="51.84" height="51.84" fill="#ff9500"/>
<rect x="431.21" y="1626.27" width="51.84" height="51.84" fill="#a3c087"/>
<rect x="482.45" y="1626.27" width="51.84" height="51.84" fill="#99b68c"/>
<rect x="533.70" y="1626.27" width="103.08" height="51.84" fill="#88a996"/>
<rect x="636.18" y="1626.27" width="51.84" height="51.84" fill="#7ca09c"/>
<rect x="687.42" y="1626.27" width="103.08" height="51.84" fill="#88a996"/>
<rect x="789.91" y="1626.27" width="205.57" height="51.84" fill="#0000ff"/>
<rect x="994.88" y="1626.27" width="51.84" height="51.84" fill="#a3c087"/>
<rect x="1046.12" y="1626.27" width="51.84" height="51.84" fill="#99b68c"/>
<rect x="1097.36" y="1626.27" width="769.24" height="51.84" fill="#0000ff"/>
<rect x="175.00" y="1677.52" width="154.33" height="51.84" fill="#ff0000"/>
<rect x="328.73" y="1677.52" width="51.84" height="51.84" fill="#ff9500"/>
<rect x="379.97" y="1677.52" width="51.84" height="51.84" fill="#a3c087"/>
<rect x="431.21" y="1677.52" width="51.84" height="51.84" fill="#92b090"/>
<rect x="482.45" y="1677.52" width="51.84" height="51.84" fill="#88a996"/>
<rect x="533.70" y="1677.52" width="51.84" height="51.84" fill="#7ca09c"/>
<rect x="584.94" y="1677.52" width="410.54" height="51.84" fill="#0000ff"/>
<rect x="994.88" y="1677.52" width="51.84" height="51.84" fill="#92b090"/>
<rect x="1046.12" y="1677.52" width="51.84" height="51.84" fill="#99b68c"/>
<rect x="1097.36" y="1677.52" width="769.24" height="51.84" fill="#0000ff"/>
<rect x="175.00" y="1728.76" width="103.08" height="51.84" fill="#ff0000"/>
<rect x="277.48" y="1728.76" width="51.84" height="51.84" fill="#ff9500"/>
<rect x="328.73" y="1728.76" width="51.84" height="51.84" fill="#a3c087"/>
<rect x="379.97" y="1728.76" width="51.84" height="51.84" fill="#92b090"/>
<rect x="431.21" y="1728.76" width="103.08" height="51.84" fill="#7ca09c"/>
<rect x="533.70" y="1728.76" width="513.02" height="51.84" fill="#0000ff"/>
<rect x="1046.12" y="1728.76" width="51.84" height="51.84" fill="#88a996"/>
<rect x="1097.36" y="1728.76" width="769.24" height="51.84" fill="#0000ff"/>
</g>
<rect x="175.5" y="89.5" width="1691.0" height="1691.0" fill="none" stroke="#262626" stroke-width="1.2" shape-rendering="crispEdges"/>
<line x1="405.6" y1="83" x2="405.6" y2="89" stroke="#2e2e2e" stroke-width="1"/>
<line x1="405.6" y1="1780" x2="405.6" y2="1786" stroke="#2e2e2e" stroke-width="1"/>
<line x1="169" y1="1549.4" x2="175" y2="1549.4" stroke="#2e2e2e" stroke-width="1"/>
<line x1="1866" y1="1549.4" x2="1872" y2="1549.4" stroke="#2e2e2e" stroke-width="1"/>
<text transform="translate(405.59,1836) scale(0.945,1)" font-size="63" text-anchor="middle">5</text>
<text transform="translate(163.55,1571.91) scale(0.945,1)" font-size="63" text-anchor="end">5</text>
<line x1="661.8" y1="83" x2="661.8" y2="89" stroke="#2e2e2e" stroke-width="1"/>
<line x1="661.8" y1="1780" x2="661.8" y2="1786" stroke="#2e2e2e" stroke-width="1"/>
<line x1="169" y1="1293.2" x2="175" y2="1293.2" stroke="#2e2e2e" stroke-width="1"/>
<line x1="1866" y1="1293.2" x2="1872" y2="1293.2" stroke="#2e2e2e" stroke-width="1"/>
<text transform="translate(661.80,1836) scale(0.945,1)" font-size="63">0</text>
<path transform="translate(632.50,1836.00) scale(1.0000)" d="M0,-29.4L10.1,-29.4L10.1,0L18.8,0L18.8,-42.6L13.5,-42.6C12.2,-38.5 8,-35.2 0,-34.8Z"/>
<text transform="translate(164.50,1315.70) scale(0.945,1)" font-size="63" text-anchor="end">0</text>
<path transform="translate(102.10,1315.70) scale(1.0000)" d="M0,-29.4L10.1,-29.4L10.1,0L18.8,0L18.8,-42.6L13.5,-42.6C12.2,-38.5 8,-35.2 0,-34.8Z"/>
<line x1="918.0" y1="83" x2="918.0" y2="89" stroke="#2e2e2e" stroke-width="1"/>
<line x1="918.0" y1="1780" x2="918.0" y2="1786" stroke="#2e2e2e" stroke-width="1"/>
<line x1="169" y1="1037.0" x2="175" y2="1037.0" stroke="#2e2e2e" stroke-width="1"/>
<line x1="1866" y1="1037.0" x2="1872" y2="1037.0" stroke="#2e2e2e" stroke-width="1"/>
<text transform="translate(918.02,1836) scale(0.945,1)" font-size="63">5</text>
<path transform="translate(888.72,1836.00) scale(1.0000)" d="M0,-29.4L10.1,-29.4L10.1,0L18.8,0L18.8,-42.6L13.5,-42.6C12.2,-38.5 8,-35.2 0,-34.8Z"/>
<text transform="translate(163.55,1059.48) scale(0.945,1)" font-size="63" text-anchor="end">5</text>
<path transform="translate(101.15,1059.48) scale(1.0000)" d="M0,-29.4L10.1,-29.4L10.1,0L18.8,0L18.8,-42.6L13.5,-42.6C12.2,-38.5 8,-35.2 0,-34.8Z"/>
<line x1="1174.2" y1="83" x2="1174.2" y2="89" stroke="#2e2e2e" stroke-width="1"/>
<line x1="1174.2" y1="1780" x2="1174.2" y2="1786" stroke="#2e2e2e" stroke-width="1"/>
<line x1="169" y1="780.8" x2="175" y2="780.8" stroke="#2e2e2e" stroke-width="1"/>
<line x1="1866" y1="780.8" x2="1872" y2="780.8" stroke="#2e2e2e" stroke-width="1"/>
<text transform="translate(1174.23,1836) scale(0.945,1)" font-size="63" text-anchor="middle">20</text>
<text transform="translate(164.50,803.27) scale(0.945,1)" font-size="63" text-anchor="end">20</text>
<line x1="1430.4" y1="83" x2="1430.4" y2="89" stroke="#2e2e2e" stroke-width="1"/>
<line x1="1430.4" y1="1780" x2="1430.4" y2="1786" stroke="#2e2e2e" stroke-width="1"/>
<line x1="169" y1="524.6" x2="175" y2="524.6" stroke="#2e2e2e" stroke-width="1"/>
<line x1="1866" y1="524.6" x2="1872" y2="524.6" stroke="#2e2e2e" stroke-width="1"/>
<text transform="translate(1430.44,1836) scale(0.945,1)" font-size="63" text-anchor="middle">25</text>
<text transform="translate(163.55,547.06) scale(0.945,1)" font-size="63" text-anchor="end">25</text>
<line x1="1686.7" y1="83" x2="1686.7" y2="89" stroke="#2e2e2e" stroke-width="1"/>
<line x1="1686.7" y1="1780" x2="1686.7" y2="1786" stroke="#2e2e2e" stroke-width="1"/>
<line x1="169" y1="268.3" x2="175" y2="268.3" stroke="#2e2e2e" stroke-width="1"/>
<line x1="1866" y1="268.3" x2="1872" y2="268.3" stroke="#2e2e2e" stroke-width="1"/>
<text transform="translate(1686.65,1836) scale(0.945,1)" font-size="63" text-anchor="middle">30</text>
<text transform="translate(164.50,290.85) scale(0.945,1)" font-size="63" text-anchor="end">30</text>
<text transform="translate(818.5,1891.5) scale(0.940,1)" font-size="63.5">Residue index</text>
<text transform="translate(85.9,1137.1) rotate(-90) scale(0.940,1)" font-size="63.5">Residue index</text>
<g shape-rendering="crispEdges">
<rect x="1889" y="1674.31" width="13" height="106.29" fill="#ff0000"/>
<rect x="1889" y="1568.62" width="13" height="106.29" fill="#ff2400"/>
<rect x="1889" y="1462.94" width="13" height="106.29" fill="#ff4a00"/>
<rect x="1889" y="1357.25" width="13" height="106.29" fill="#ff6f00"/>
<rect x="1889" y="1251.56" width="13" height="106.29" fill="#ff9500"/>
<rect x="1889" y="1145.88" width="13" height="106.29" fill="#a7c386"/>
<rect x="1889" y="1040.19" width="13" height="106.29" fill="#9fbd89"/>
<rect x="1889" y="934.50" width="13" height="106.29" fill="#99b68c"/>
<rect x="1889" y="828.81" width="13" height="106.29" fill="#92b090"/>
<rect x="1889" y="723.12" width="13" height="106.29" fill="#8aaa94"/>
<rect x="1889" y="617.44" width="13" height="106.29" fill="#82a498"/>
<rect x="1889" y="511.75" width="13" height="106.29" fill="#7b9e9e"/>
<rect x="1889" y="406.06" width="13" height="106.29" fill="#7398a6"/>
<rect x="1889" y="300.38" width="13" height="106.29" fill="#6a92ad"/>
<rect x="1889" y="194.69" width="13" height="106.29" fill="#5f8bb5"/>
<rect x="1889" y="89.00" width="13" height="106.29" fill="#0000ff"/>
</g>
<rect x="1889.5" y="89.5" width="12.0" height="1691.0" fill="none" stroke="#262626" stroke-width="1.2" shape-rendering="crispEdges"/>
<line x1="1902" y1="1454.3" x2="1906" y2="1454.3" stroke="#2e2e2e" stroke-width="1"/>
<text transform="translate(1910,1472.30) scale(0.955,1)" font-size="50.5">5</text>
<line x1="1902" y1="1083.3" x2="1906" y2="1083.3" stroke="#2e2e2e" stroke-width="1"/>
<text transform="translate(1936.81,1101.30) scale(0.955,1)" font-size="50.5">0</text>
<path transform="translate(1913.33,1101.30) scale(0.8016)" d="M0,-29.4L10.1,-29.4L10.1,0L18.8,0L18.8,-42.6L13.5,-42.6C12.2,-38.5 8,-35.2 0,-34.8Z"/>
<line x1="1902" y1="712.3" x2="1906" y2="712.3" stroke="#2e2e2e" stroke-width="1"/>
<text transform="translate(1936.81,730.30) scale(0.955,1)" font-size="50.5">5</text>
<path transform="translate(1913.33,730.30) scale(0.8016)" d="M0,-29.4L10.1,-29.4L10.1,0L18.8,0L18.8,-42.6L13.5,-42.6C12.2,-38.5 8,-35.2 0,-34.8Z"/>
<line x1="1902" y1="341.3" x2="1906" y2="341.3" stroke="#2e2e2e" stroke-width="1"/>
<text transform="translate(1910,359.30) scale(0.955,1)" font-size="50.5">20</text>
</svg></body></html>
